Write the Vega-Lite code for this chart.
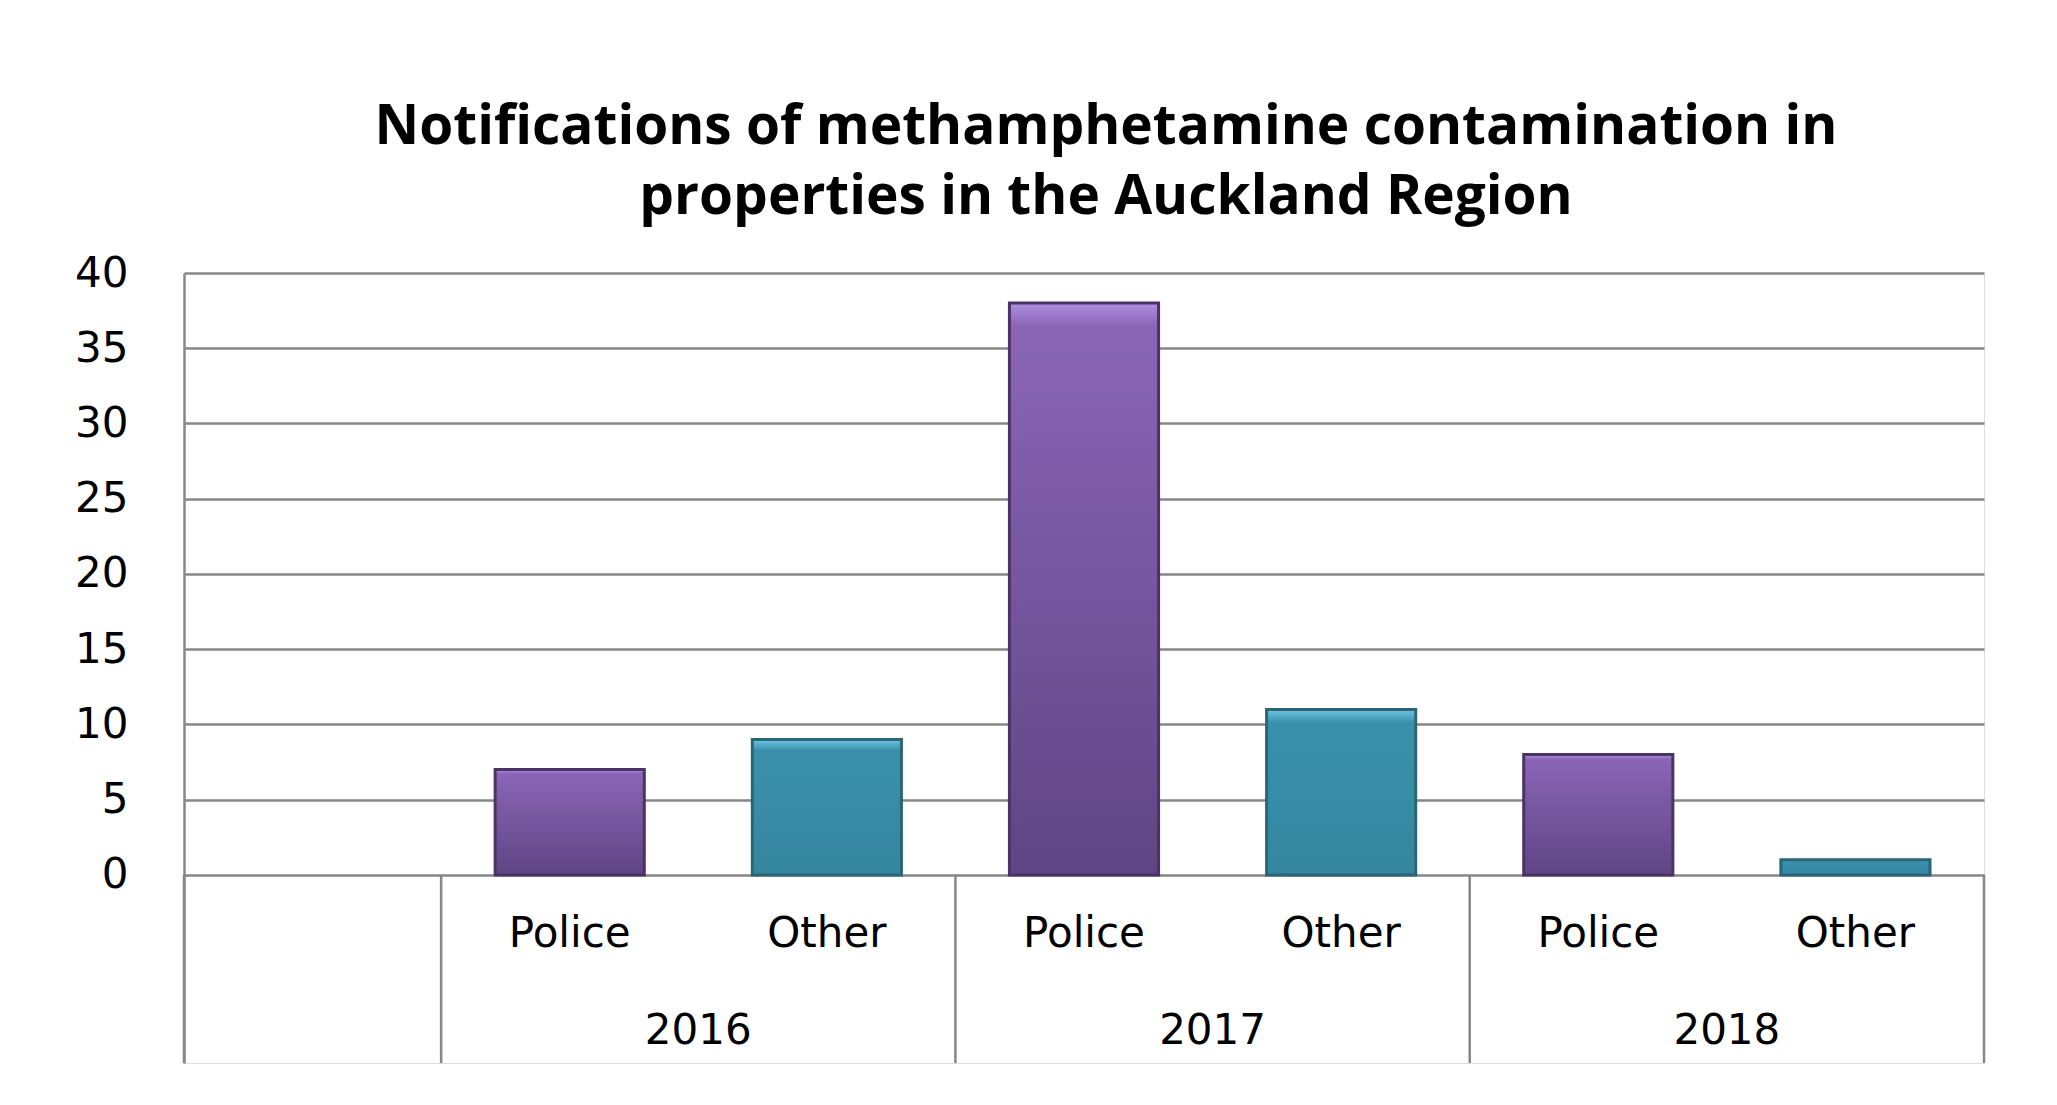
{
  "$schema": "https://vega.github.io/schema/vega-lite/v6.json",
  "width": 1800,
  "height": 790,
  "autosize": {"type": "none"},
  "padding": {"left": 184, "top": 273, "right": 73, "bottom": 42},
  "background": "white",
  "title": {
    "text": ["Notifications of methamphetamine contamination in", "properties in the Auckland Region"],
    "font": "Open Sans",
    "fontWeight": "bold",
    "fontSize": 55,
    "lineHeight": 70,
    "color": "black",
    "anchor": "middle",
    "frame": "group",
    "dx": 22,
    "offset": 26
  },
  "data": {
    "values": [
      {"key": "blank", "type": "", "year": "", "value": null},
      {"key": "2016 Police", "type": "Police", "year": "2016", "value": 7},
      {"key": "2016 Other", "type": "Other", "year": "2016", "value": 9},
      {"key": "2017 Police", "type": "Police", "year": "2017", "value": 38},
      {"key": "2017 Other", "type": "Other", "year": "2017", "value": 11},
      {"key": "2018 Police", "type": "Police", "year": "2018", "value": 8},
      {"key": "2018 Other", "type": "Other", "year": "2018", "value": 1}
    ]
  },
  "encoding": {
    "x": {
      "field": "key",
      "type": "nominal",
      "sort": null,
      "scale": {
        "domain": ["blank", "2016 Police", "2016 Other", "2017 Police", "2017 Other", "2018 Police", "2018 Other"],
        "paddingInner": 0,
        "paddingOuter": 0
      },
      "axis": null
    }
  },
  "layer": [
    {
      "transform": [{"filter": "datum.value != null"}],
      "mark": {"type": "bar", "width": {"band": 0.58}, "strokeWidth": 3},
      "encoding": {
        "y": {
          "field": "value",
          "type": "quantitative",
          "scale": {"domain": [-12.5, 40], "nice": false},
          "axis": {
            "title": null,
            "values": [0, 5, 10, 15, 20, 25, 30, 35, 40],
            "grid": true,
            "gridColor": "#878787",
            "gridWidth": 2.5,
            "domainColor": "#878787",
            "domainWidth": 2.5,
            "ticks": false,
            "labelFont": "DejaVu Sans",
            "labelFontSize": 42,
            "labelColor": "black",
            "labelPadding": 56,
            "labelBaseline": "middle"
          }
        },
        "fill": {
          "condition": {
            "test": "datum.type === 'Police'",
            "value": {"gradient": "linear", "x1": 0, "y1": 0, "x2": 0, "y2": 1,
              "stops": [{"offset": 0, "color": "#b08fe0"}, {"offset": 0.04, "color": "#8a65b6"}, {"offset": 1, "color": "#5f4584"}]}
          },
          "value": {"gradient": "linear", "x1": 0, "y1": 0, "x2": 0, "y2": 1,
            "stops": [{"offset": 0, "color": "#6fc8e2"}, {"offset": 0.08, "color": "#3a90aa"}, {"offset": 1, "color": "#35869f"}]}
        },
        "stroke": {
          "condition": {"test": "datum.type === 'Police'", "value": "#4a3366"},
          "value": "#2a6677"
        }
      }
    },
    {
      "transform": [{"filter": "datum.type !== 'Other'"}],
      "mark": {"type": "rule", "color": "#878787", "strokeWidth": 2.5},
      "encoding": {
        "x": {"field": "key", "type": "nominal", "bandPosition": 0},
        "y": {"datum": 0},
        "y2": {"datum": -12.5}
      }
    },
    {
      "transform": [{"filter": "datum.key === '2018 Other'"}],
      "mark": {"type": "rule", "color": "#878787", "strokeWidth": 2.5},
      "encoding": {
        "x": {"field": "key", "type": "nominal", "bandPosition": 1},
        "y": {"datum": 0},
        "y2": {"datum": -12.5}
      }
    },
    {
      "transform": [{"filter": "datum.type !== ''"}],
      "mark": {"type": "text", "font": "DejaVu Sans", "fontSize": 42, "baseline": "middle", "color": "black"},
      "encoding": {
        "y": {"datum": -3.9},
        "text": {"field": "type"}
      }
    },
    {
      "transform": [{"filter": "datum.type === 'Other'"}],
      "mark": {"type": "text", "font": "DejaVu Sans", "fontSize": 42, "baseline": "middle", "color": "black"},
      "encoding": {
        "x": {"field": "key", "type": "nominal", "bandPosition": 0},
        "y": {"datum": -10.4},
        "text": {"field": "year"}
      }
    }
  ]
}
